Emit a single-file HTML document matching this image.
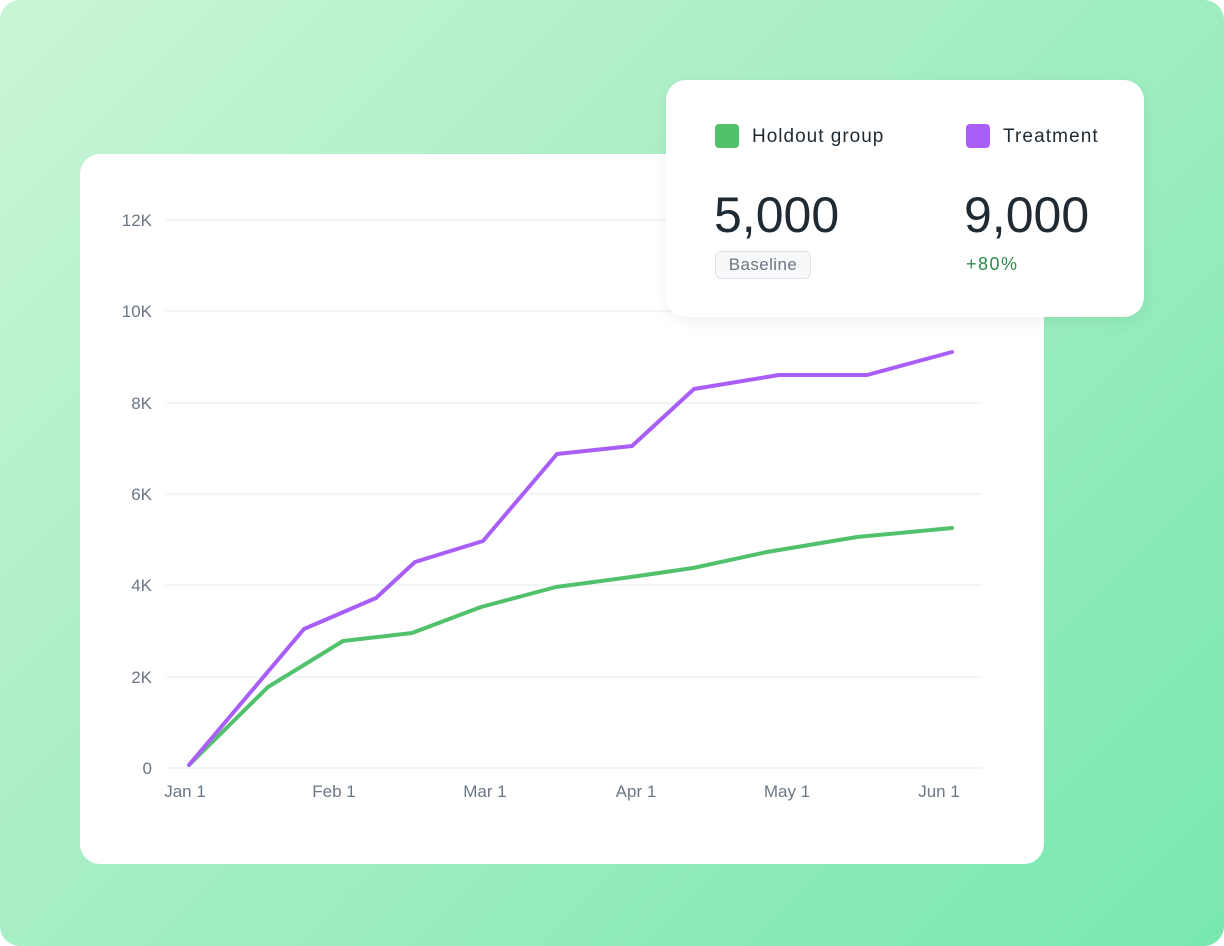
<!DOCTYPE html>
<html><head><style>
body{margin:0;width:1224px;height:946px;overflow:hidden;background:#fff;font-family:"Liberation Sans",sans-serif}
.bg{position:absolute;left:0;top:0;width:1224px;height:946px;border-radius:20px;background:linear-gradient(135deg,#c9f5d6 0%,#a6eec4 45%,#78e8ae 100%)}
.card{position:absolute;left:80px;top:154px;width:964px;height:710px;background:#fff;border-radius:20px}
.pop{position:absolute;left:666px;top:80px;width:478px;height:237px;background:#fff;border-radius:20px;box-shadow:0 4px 16px rgba(0,0,0,.06)}
.t{position:absolute;color:#1f2a33;white-space:nowrap}
</style></head><body>
<div class="bg"></div>
<div class="card"></div>
<svg style="position:absolute;left:0;top:0" width="1224" height="946">
<g stroke="#e6e9ec" stroke-width="1">
<line x1="166" x2="982" y1="220" y2="220"/><line x1="166" x2="982" y1="311" y2="311"/>
<line x1="166" x2="982" y1="403" y2="403"/><line x1="166" x2="982" y1="494" y2="494"/>
<line x1="166" x2="982" y1="585" y2="585"/><line x1="166" x2="982" y1="677" y2="677"/>
<line x1="166" x2="982" y1="768" y2="768"/>
</g>
<g font-family="Liberation Sans,sans-serif" font-size="17" fill="#6b7785" text-anchor="end">
<text x="152" y="226">12K</text><text x="152" y="317">10K</text><text x="152" y="409">8K</text>
<text x="152" y="500">6K</text><text x="152" y="591">4K</text><text x="152" y="683">2K</text><text x="152" y="774">0</text>
</g>
<g font-family="Liberation Sans,sans-serif" font-size="17" fill="#6b7785" text-anchor="middle">
<text x="185" y="797">Jan 1</text><text x="334" y="797">Feb 1</text><text x="485" y="797">Mar 1</text>
<text x="636" y="797">Apr 1</text><text x="787" y="797">May 1</text><text x="939" y="797">Jun 1</text>
</g>
<polyline fill="none" stroke="#51c26b" stroke-width="4" stroke-linejoin="round" stroke-linecap="round" points="189,765 268,687 343,641 412,633 481,607 556,587 631,577 693,568 767,552 857,537 952,528"/>
<polyline fill="none" stroke="#a95ef8" stroke-width="4" stroke-linejoin="round" stroke-linecap="round" points="189,765 304,629 376,598 415,562 483,541 557,454 632,446 694,389 779,375 867,375 952,352"/>
</svg>
<div class="pop">
<div style="position:absolute;left:49px;top:44px;width:24px;height:24px;border-radius:4px;background:#51c26b"></div>
<div class="t" style="left:86px;top:46px;font-size:19px;letter-spacing:1px">Holdout group</div>
<div style="position:absolute;left:300px;top:44px;width:24px;height:24px;border-radius:4px;background:#a95ef8"></div>
<div class="t" style="left:337px;top:46px;font-size:19px;letter-spacing:1.1px">Treatment</div>
<div class="t" style="left:48px;top:106px;font-size:50px">5,000</div>
<div class="t" style="left:298px;top:106px;font-size:50px">9,000</div>
<div style="position:absolute;left:49px;top:171px;width:96px;height:28px;border:1px solid #dfe3e7;border-radius:6px;background:#f7f8f9;box-sizing:border-box;color:#6b7785;font-size:17px;text-align:center;line-height:26px;letter-spacing:0.4px">Baseline</div>
<div class="t" style="left:300px;top:174px;font-size:18px;color:#2e8b4a;letter-spacing:1.5px">+80%</div>
</div>
</body></html>
